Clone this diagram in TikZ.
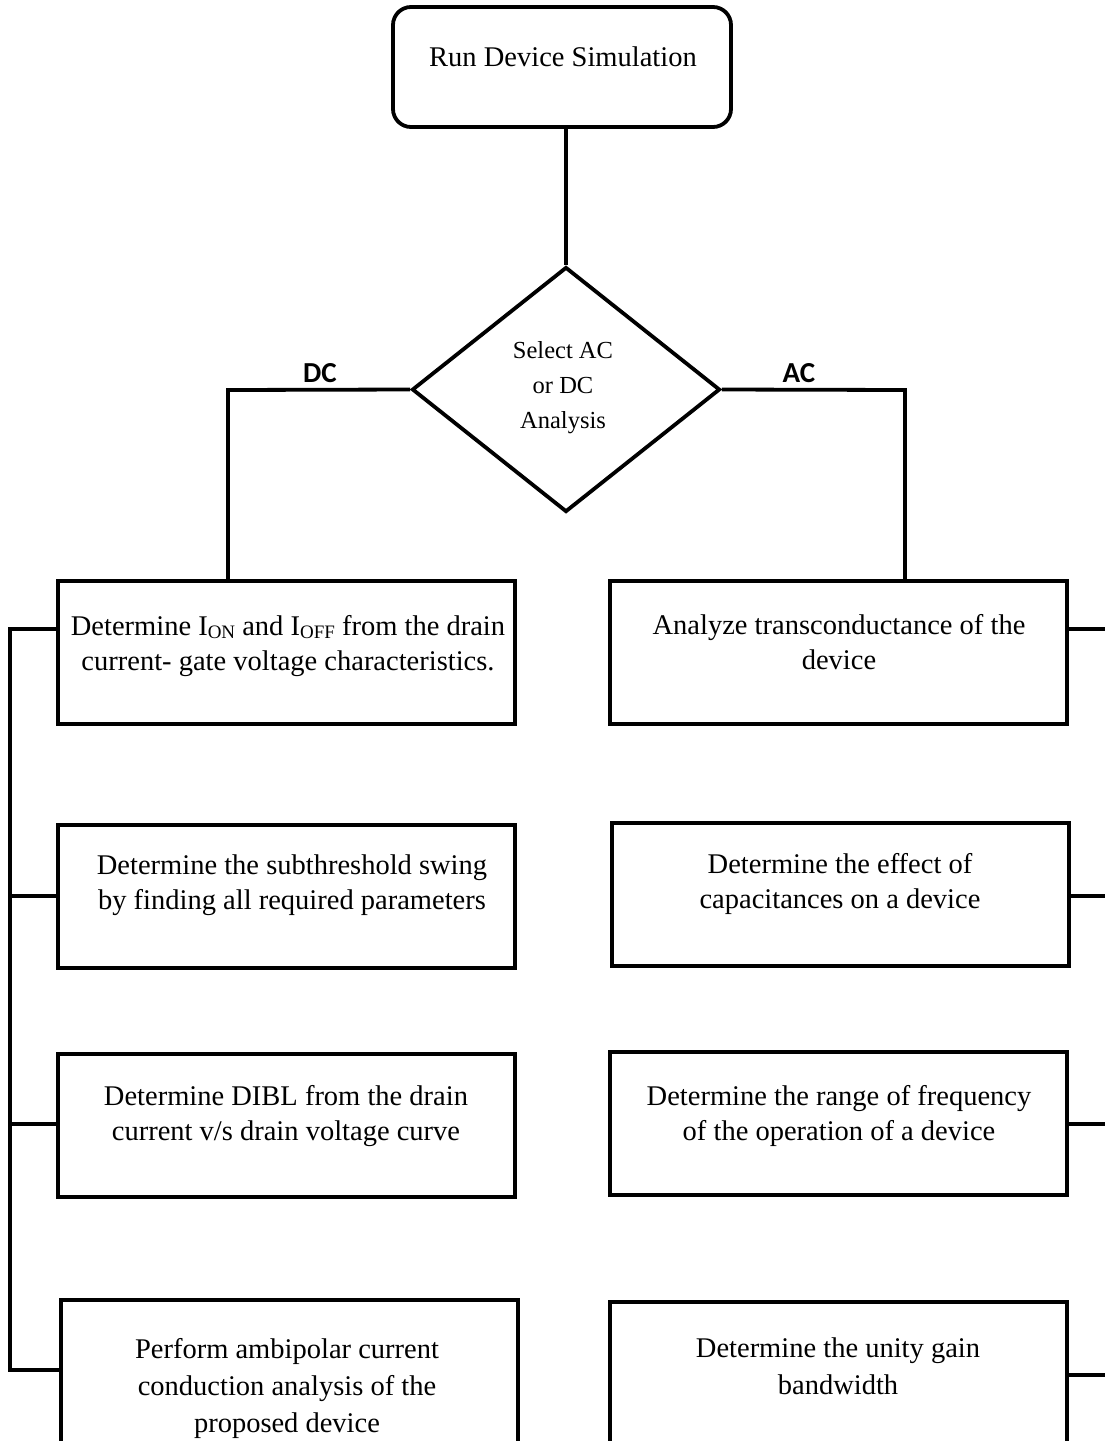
\documentclass[tikz,border=0pt]{standalone}
\usepackage{fontspec}
\setmainfont{Liberation Serif}
\newfontfamily\labelfont{Carlito}
\usetikzlibrary{shapes.geometric}
\newcommand{\sub}[1]{\raisebox{-0.25ex}{\fontsize{19}{19}\selectfont #1}}
\begin{document}
\begin{tikzpicture}[x=1pt,y=-1pt,
  line width=3.8pt, line join=miter,
  stepbox/.style={draw, rectangle, minimum width=457pt, minimum height=143pt, inner sep=0pt},
  txt/.style={align=center, font=\fontsize{28.5}{35.5}\selectfont, inner sep=0pt},
  dtxt/.style={align=center, font=\fontsize{24.5}{35}\selectfont, inner sep=0pt},
  branch/.style={font=\labelfont\bfseries\fontsize{29}{29}\selectfont, inner sep=0pt}]
\useasboundingbox (0,0) rectangle (1105,1441);
\clip (0,0) rectangle (1105,1441);

% start node
\node[draw, rounded corners=18pt, minimum width=338pt, minimum height=120pt, inner sep=0pt] (start) at (562,67) {};
\node[txt] (startt) at (563,57) {Run Device Simulation};

% decision
\node[draw, diamond, minimum width=308pt, minimum height=245pt, inner sep=0pt] (dec) at (566,389.5) {};
\node[dtxt] (dect) at (563,388) {Select AC\\or DC\\Analysis};

% DC branch boxes
\node[stepbox] (l1) at (286.5,652.5) {};
\node[txt] (l1t) at (288,646) {Determine I\sub{ON} and I\sub{OFF} from the drain\\current- gate voltage characteristics.};
\node[stepbox] (l2) at (286.5,896.5) {};
\node[txt] (l2t) at (292,885) {Determine the subthreshold swing\\by finding all required parameters};
\node[stepbox] (l3) at (286.5,1125.5) {};
\node[txt] (l3t) at (286,1116) {Determine DIBL from the drain\\current v/s drain voltage curve};
\node[stepbox] (l4) at (289.5,1371.5) {};
\node[txt, font=\fontsize{28.5}{37}\selectfont] (l4t) at (287,1388) {Perform ambipolar current\\conduction analysis of the\\proposed device};

% AC branch boxes
\node[stepbox] (r1) at (838.5,652.5) {};
\node[txt] (r1t) at (839,642) {Analyze transconductance of the\\device};
\node[stepbox] (r2) at (840.5,894.5) {};
\node[txt] (r2t) at (840,884) {Determine the effect of\\capacitances on a device};
\node[stepbox] (r3) at (838.5,1123.5) {};
\node[txt] (r3t) at (839,1116) {Determine the range of frequency\\of the operation of a device};
\node[stepbox] (r4) at (838.5,1373.5) {};
\node[txt, font=\fontsize{28.5}{37}\selectfont] (r4t) at (838,1366) {Determine the unity gain\\bandwidth};

% connector from start to decision
\draw (start.south -| dec.north) -- (dec.north);

% branch corners
\coordinate (dcturn) at (228,390);
\coordinate (acturn) at (905,390);
\draw (dec.west) -- (dcturn) -- (dcturn |- l1.north);
\draw (dec.east) -- (acturn) -- (acturn |- r1.north);
\node[branch] (dclab) at (320,373) {DC};
\node[branch] (aclab) at (799,373) {AC};

% left bus joining the DC steps
\coordinate (b1) at (10,629);
\coordinate (b2) at (10,896);
\coordinate (b3) at (10,1124);
\coordinate (b4) at (10,1370);
\draw (l1.west |- b1) -- (b1) -- (b4) -- (l4.west |- b4);
\draw (b2) -- (b2 -| l2.west);
\draw (b3) -- (b3 -| l3.west);

% right stubs leaving the AC steps
\coordinate (e1) at (1115,629);
\coordinate (e2) at (1115,896);
\coordinate (e3) at (1115,1124);
\coordinate (e4) at (1115,1375);
\draw (r1.east |- e1) -- (e1);
\draw (r2.east |- e2) -- (e2);
\draw (r3.east |- e3) -- (e3);
\draw (r4.east |- e4) -- (e4);
\end{tikzpicture}
\end{document}
